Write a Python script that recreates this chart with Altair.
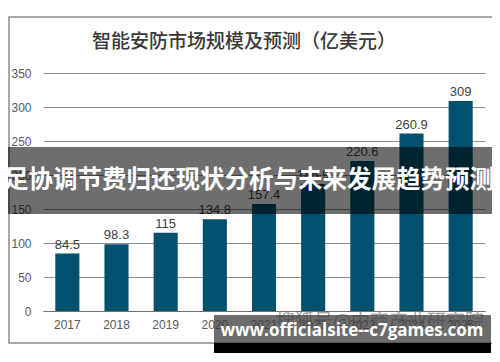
import altair as alt
import pandas as pd

years = ["2017", "2018", "2019", "2020", "2021", "2022", "2023", "2024", "2025"]
values = [84.5, 98.3, 115, 134.8, 157.4, 186.9, 220.6, 260.9, 309]
labels = ["84.5", "98.3", "115", "134.8", "157.4", "186.9", "220.6", "260.9", "309"]
y_ticks = [0, 50, 100, 150, 200, 250, 300, 350]

title_text = "智能安防市场规模及预测（亿美元）"
banner_text = "足协调节费归还现状分析与未来发展趋势预测"
source_text = "搜狐号@中商产业研究院"
site_text = "www.officialsite--c7games.com"

df = pd.DataFrame({"year": years, "value": values, "label": labels})
one = pd.DataFrame({"k": [0]})

FONT = "Liberation Sans, Noto Sans CJK SC"
CJK = "Noto Sans CJK SC"
W, H = 442, 238

x_enc = alt.X("year:N", sort=years,
              scale=alt.Scale(paddingInner=0.51, paddingOuter=0.25),
              axis=alt.Axis(title=None, labelAngle=0, labelFontSize=12, labelColor="#595959",
                            labelFont=FONT, ticks=False, domainColor="#6f6f6f", labelPadding=8,
                            grid=False))
y_enc = alt.Y("value:Q", scale=alt.Scale(domain=[0, 350], nice=False),
              axis=alt.Axis(title=None, values=y_ticks, labelFontSize=12, labelColor="#595959",
                            labelFont=FONT, ticks=False, domain=False, grid=True,
                            gridColor="#8f8f8f", gridWidth=1, labelOverlap=False,
                            labelPadding=12))

frame = alt.Chart(one).mark_rect(fillOpacity=0, stroke="#8c8c8c", strokeWidth=1.5).encode(
    x=alt.value(-34), x2=alt.value(453), y=alt.value(-56), y2=alt.value(270))

bars = alt.Chart(df).mark_bar(color="#02516f").encode(x=x_enc, y=y_enc)
texts = alt.Chart(df).mark_text(dy=-9, fontSize=13, color="#404040", font=FONT).encode(
    x=x_enc, y=y_enc, text="label:N")

title = alt.Chart(one).mark_text(fontSize=19, fontWeight=500, color="#3a3a3a", font=CJK).encode(
    x=alt.value(201), y=alt.value(-31), text=alt.value(title_text))

banner = alt.Chart(one).mark_rect(fill="#000000", opacity=0.57).encode(
    x=alt.value(-40), x2=alt.value(460), y=alt.value(74), y2=alt.value(141))
banner_t = alt.Chart(one).mark_text(fontSize=24.5, fontWeight="bold", color="white", font=CJK).encode(
    x=alt.value(206), y=alt.value(108), text=alt.value(banner_text))

src = alt.Chart(one).mark_text(fontSize=19, color="#8c8c8c", font=CJK, opacity=0.8).encode(
    x=alt.value(337), y=alt.value(249), text=alt.value(source_text))
wm_box = alt.Chart(one).mark_rect(fill="#3c3c3c", opacity=0.75).encode(
    x=alt.value(171), x2=alt.value(448), y=alt.value(242), y2=alt.value(270))
wm_black = alt.Chart(one).mark_rect(fill="#000000").encode(
    x=alt.value(171), x2=alt.value(448), y=alt.value(270), y2=alt.value(280))
wm_t = alt.Chart(one).mark_text(fontSize=17, fontWeight="bold", color="white", font="Open Sans").encode(
    x=alt.value(309), y=alt.value(258), text=alt.value(site_text))

chart = alt.layer(frame, bars, texts, title, banner, banner_t, src, wm_box, wm_black, wm_t).properties(
    width=W, height=H, autosize=alt.AutoSizeParams(type="none"),
    padding={"left": 35, "top": 65, "right": 7, "bottom": 43},
    background="white"
).configure_view(stroke=None)

chart.save("out.html", embed_options={"renderer": "svg", "actions": False})
